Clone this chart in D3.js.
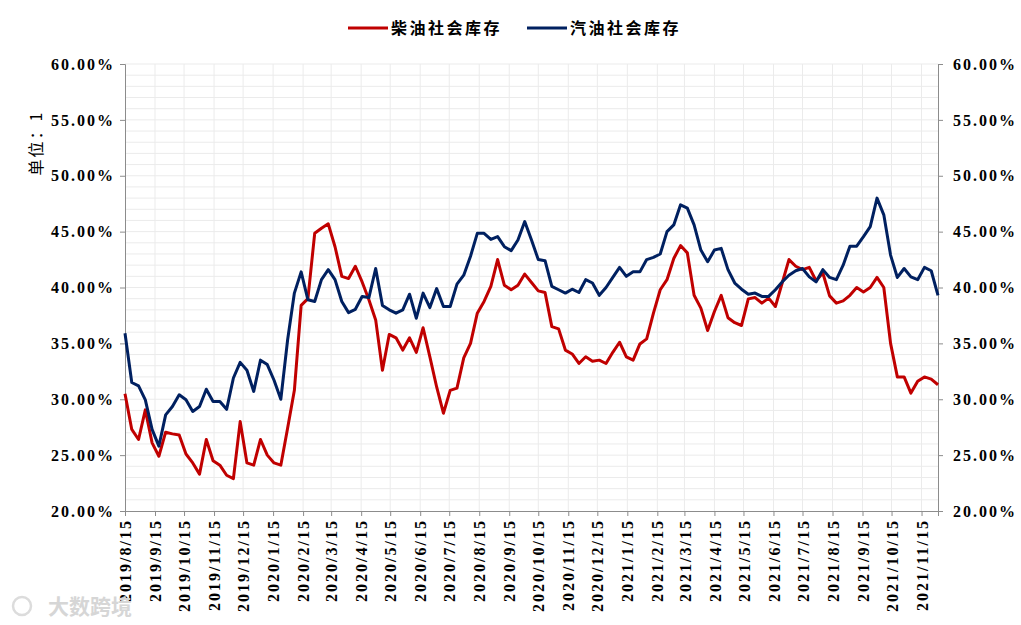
<!DOCTYPE html>
<html lang="zh">
<head>
    <meta charset="UTF-8">
    <title>柴油/汽油社会库存</title>
    <style>
        body { margin: 0; background: #fff; }
    </style>
</head>
<body>
<script src="https://cdn.jsdelivr.net/npm/d3@7/dist/d3.min.js"></script>
<script>
    // weekly series, first week 2019/8/15
    let startDate = "2019/8/15";
    let diesel = [30.5, 27.3, 26.4, 29.05, 26.1, 24.9, 27.05, 26.9, 26.8, 25.1,
        24.3, 23.3, 26.4, 24.5, 24.1, 23.2, 22.9, 28.0, 24.3, 24.1,
        26.4, 25.0, 24.3, 24.1, 27.4, 30.8, 38.4, 39.0, 44.85, 45.3,
        45.7, 43.65, 41.0, 40.8, 41.9, 40.5, 38.9, 37.1, 32.6, 35.8,
        35.5, 34.4, 35.5, 34.2, 36.4, 33.8, 31.1, 28.75, 30.8, 31.0,
        33.7, 35.0, 37.7, 38.75, 40.1, 42.5, 40.2, 39.8, 40.2, 41.2,
        40.45, 39.7, 39.55, 36.5, 36.3, 34.4, 34.05, 33.2, 33.8, 33.4,
        33.5, 33.2, 34.2, 35.1, 33.8, 33.5, 34.95, 35.4, 37.7, 39.8,
        40.7, 42.6, 43.75, 43.1, 39.3, 38.15, 36.15, 37.85, 39.3, 37.3,
        36.85, 36.6, 38.98, 39.1, 38.6, 39.05, 38.3, 40.4, 42.5, 41.9,
        41.6, 41.8, 40.6, 41.3, 39.25, 38.6, 38.8, 39.3, 40.0, 39.6,
        40.0, 40.9, 40.0, 35.0, 32.0, 32.0, 30.55, 31.6, 32.0, 31.8,
        31.3];
    let gasoline = [35.9, 31.5, 31.2, 29.95, 27.3, 25.8, 28.6, 29.35, 30.4, 29.95,
        28.9, 29.35, 30.9, 29.8, 29.8, 29.1, 31.9, 33.3, 32.6, 30.7,
        33.5, 33.1, 31.7, 30.0, 35.3, 39.5, 41.4, 38.9, 38.75, 40.7,
        41.6, 40.7, 38.75, 37.75, 38.05, 39.2, 39.1, 41.7, 38.4, 38.0,
        37.7, 38.0, 39.4, 37.25, 39.5, 38.2, 39.9, 38.3, 38.3, 40.3,
        41.1, 42.8, 44.85, 44.85, 44.3, 44.55, 43.65, 43.3, 44.25, 45.9,
        44.25, 42.5, 42.4, 40.1, 39.8, 39.5, 39.85, 39.55, 40.7, 40.4,
        39.3, 40.0, 40.9, 41.8, 41.0, 41.4, 41.4, 42.5, 42.7, 43.0,
        45.0, 45.6, 47.4, 47.1, 45.6, 43.35, 42.3, 43.35, 43.5, 41.6,
        40.4, 39.85, 39.4, 39.5, 39.2, 39.2, 39.8, 40.5, 41.1, 41.5,
        41.7, 40.95, 40.5, 41.6, 40.9, 40.7, 42.0, 43.7, 43.7, 44.55,
        45.45, 48.0, 46.5, 42.9, 40.9, 41.7, 40.95, 40.7, 41.8, 41.5,
        39.3];
    let xTickLabels = ["2019/8/15", "2019/9/15", "2019/10/15", "2019/11/15", "2019/12/15",
        "2020/1/15", "2020/2/15", "2020/3/15", "2020/4/15", "2020/5/15", "2020/6/15",
        "2020/7/15", "2020/8/15", "2020/9/15", "2020/10/15", "2020/11/15", "2020/12/15",
        "2021/1/15", "2021/2/15", "2021/3/15", "2021/4/15", "2021/5/15", "2021/6/15",
        "2021/7/15", "2021/8/15", "2021/9/15", "2021/10/15", "2021/11/15"];
    let yTicks = [20, 25, 30, 35, 40, 45, 50, 55, 60];
    let seriesNames = ["柴油社会库存", "汽油社会库存"];
    let seriesColors = ["#c00000", "#002060"];

    let width = 1021;
    let height = 625;
    let margin = {top: 64, right: 83, bottom: 114, left: 125};
    let font = "'Liberation Serif', 'DejaVu Serif', serif";
    let cjk = "'Noto Sans CJK SC', 'Noto Sans', sans-serif";

    let parse = d3.timeParse("%Y/%m/%d");
    let t0 = parse(startDate);
    let dates = diesel.map((d, i) => d3.timeDay.offset(t0, i * 7));

    let svg = d3.select("body").append("svg")
        .attr("width", width)
        .attr("height", height);

    let x = d3.scaleTime()
        .domain([t0, dates[dates.length - 1]])
        .range([margin.left, width - margin.right]);
    let y = d3.scaleLinear()
        .domain([20, 60])
        .range([height - margin.bottom, margin.top]);

    // grid: every 1% and every month
    svg.append("g")
        .selectAll("line")
        .data(d3.range(21, 61))
        .enter()
        .append("line")
        .attr("x1", margin.left)
        .attr("x2", width - margin.right)
        .attr("y1", d => y(d))
        .attr("y2", d => y(d))
        .attr("stroke", "#ebebeb")
        .attr("stroke-width", 1);
    svg.append("g")
        .selectAll("line")
        .data(xTickLabels.slice(1))
        .enter()
        .append("line")
        .attr("x1", d => x(parse(d)))
        .attr("x2", d => x(parse(d)))
        .attr("y1", margin.top)
        .attr("y2", height - margin.bottom)
        .attr("stroke", "#ebebeb")
        .attr("stroke-width", 1);

    // axes
    let axisColor = "#8c8c8c";
    let xAxis = svg.append("g")
        .attr("transform", "translate(0," + y(20) + ")")
        .call(d3.axisBottom(x)
            .tickValues(xTickLabels.map(d => parse(d)))
            .tickSize(5)
            .tickFormat((d, i) => xTickLabels[i]));
    xAxis.selectAll("text")
        .attr("transform", "rotate(-90)")
        .attr("text-anchor", "end")
        .attr("x", -8)
        .attr("y", 0)
        .attr("dy", "0.35em")
        .attr("fill", "#000")
        .style("font-family", font)
        .style("font-size", "16px")
        .style("font-weight", "bold")
        .style("letter-spacing", "2px");

    let yLeft = svg.append("g")
        .attr("transform", "translate(" + margin.left + ",0)")
        .call(d3.axisLeft(y)
            .tickValues(yTicks)
            .tickSize(5)
            .tickFormat(d => d.toFixed(2) + "%"));
    let yRight = svg.append("g")
        .attr("transform", "translate(" + (width - margin.right) + ",0)")
        .call(d3.axisRight(y)
            .tickValues(yTicks)
            .tickSize(5)
            .tickFormat(d => d.toFixed(2) + "%"));
    [xAxis, yLeft, yRight].forEach(a => {
        a.select(".domain").attr("stroke", axisColor);
        a.selectAll(".tick line").attr("stroke", axisColor);
    });
    [yLeft, yRight].forEach(a => {
        a.selectAll("text")
            .attr("fill", "#000")
            .style("font-family", font)
            .style("font-size", "16px")
            .style("font-weight", "bold")
            .style("letter-spacing", "2px");
    });
    yLeft.selectAll("text").attr("x", -10);
    yRight.selectAll("text").attr("x", 15);

    // unit label
    svg.append("text")
        .attr("transform", "translate(36,143) rotate(-90)")
        .attr("text-anchor", "middle")
        .attr("dy", "0.35em")
        .style("font-family", cjk)
        .style("font-size", "16px")
        .style("letter-spacing", "2px")
        .text("单位：1");

    // lines
    let series = [diesel, gasoline];
    let line = d3.line()
        .x((d, i) => x(dates[i]))
        .y(d => y(d));
    svg.append("g")
        .selectAll("path")
        .data(series)
        .enter()
        .append("path")
        .attr("d", d => line(d))
        .attr("fill", "none")
        .attr("stroke", (d, i) => seriesColors[i])
        .attr("stroke-width", 3)
        .attr("stroke-linejoin", "round");

    // legend
    let legendX = [348, 527];
    let legend = svg.append("g")
        .selectAll("g")
        .data(seriesNames)
        .enter()
        .append("g")
        .attr("transform", (d, i) => "translate(" + legendX[i] + ",28)");
    legend.append("line")
        .attr("x1", 0)
        .attr("x2", 40)
        .attr("stroke", (d, i) => seriesColors[i])
        .attr("stroke-width", 3);
    legend.append("text")
        .attr("x", 43)
        .attr("dy", "0.35em")
        .style("font-family", cjk)
        .style("font-size", "16px")
        .style("font-weight", "bold")
        .style("letter-spacing", "2.5px")
        .text(d => d);

    // watermark
    svg.append("text")
        .attr("x", 48)
        .attr("y", 614)
        .attr("fill", "#d6d6d6")
        .style("font-family", cjk)
        .style("font-size", "21px")
        .style("font-weight", "bold")
        .text("大数跨境");
    svg.append("circle")
        .attr("cx", 22)
        .attr("cy", 606)
        .attr("r", 9)
        .attr("fill", "none")
        .attr("stroke", "#dcdcdc")
        .attr("stroke-width", 2.5);
</script>
</body>
</html>
